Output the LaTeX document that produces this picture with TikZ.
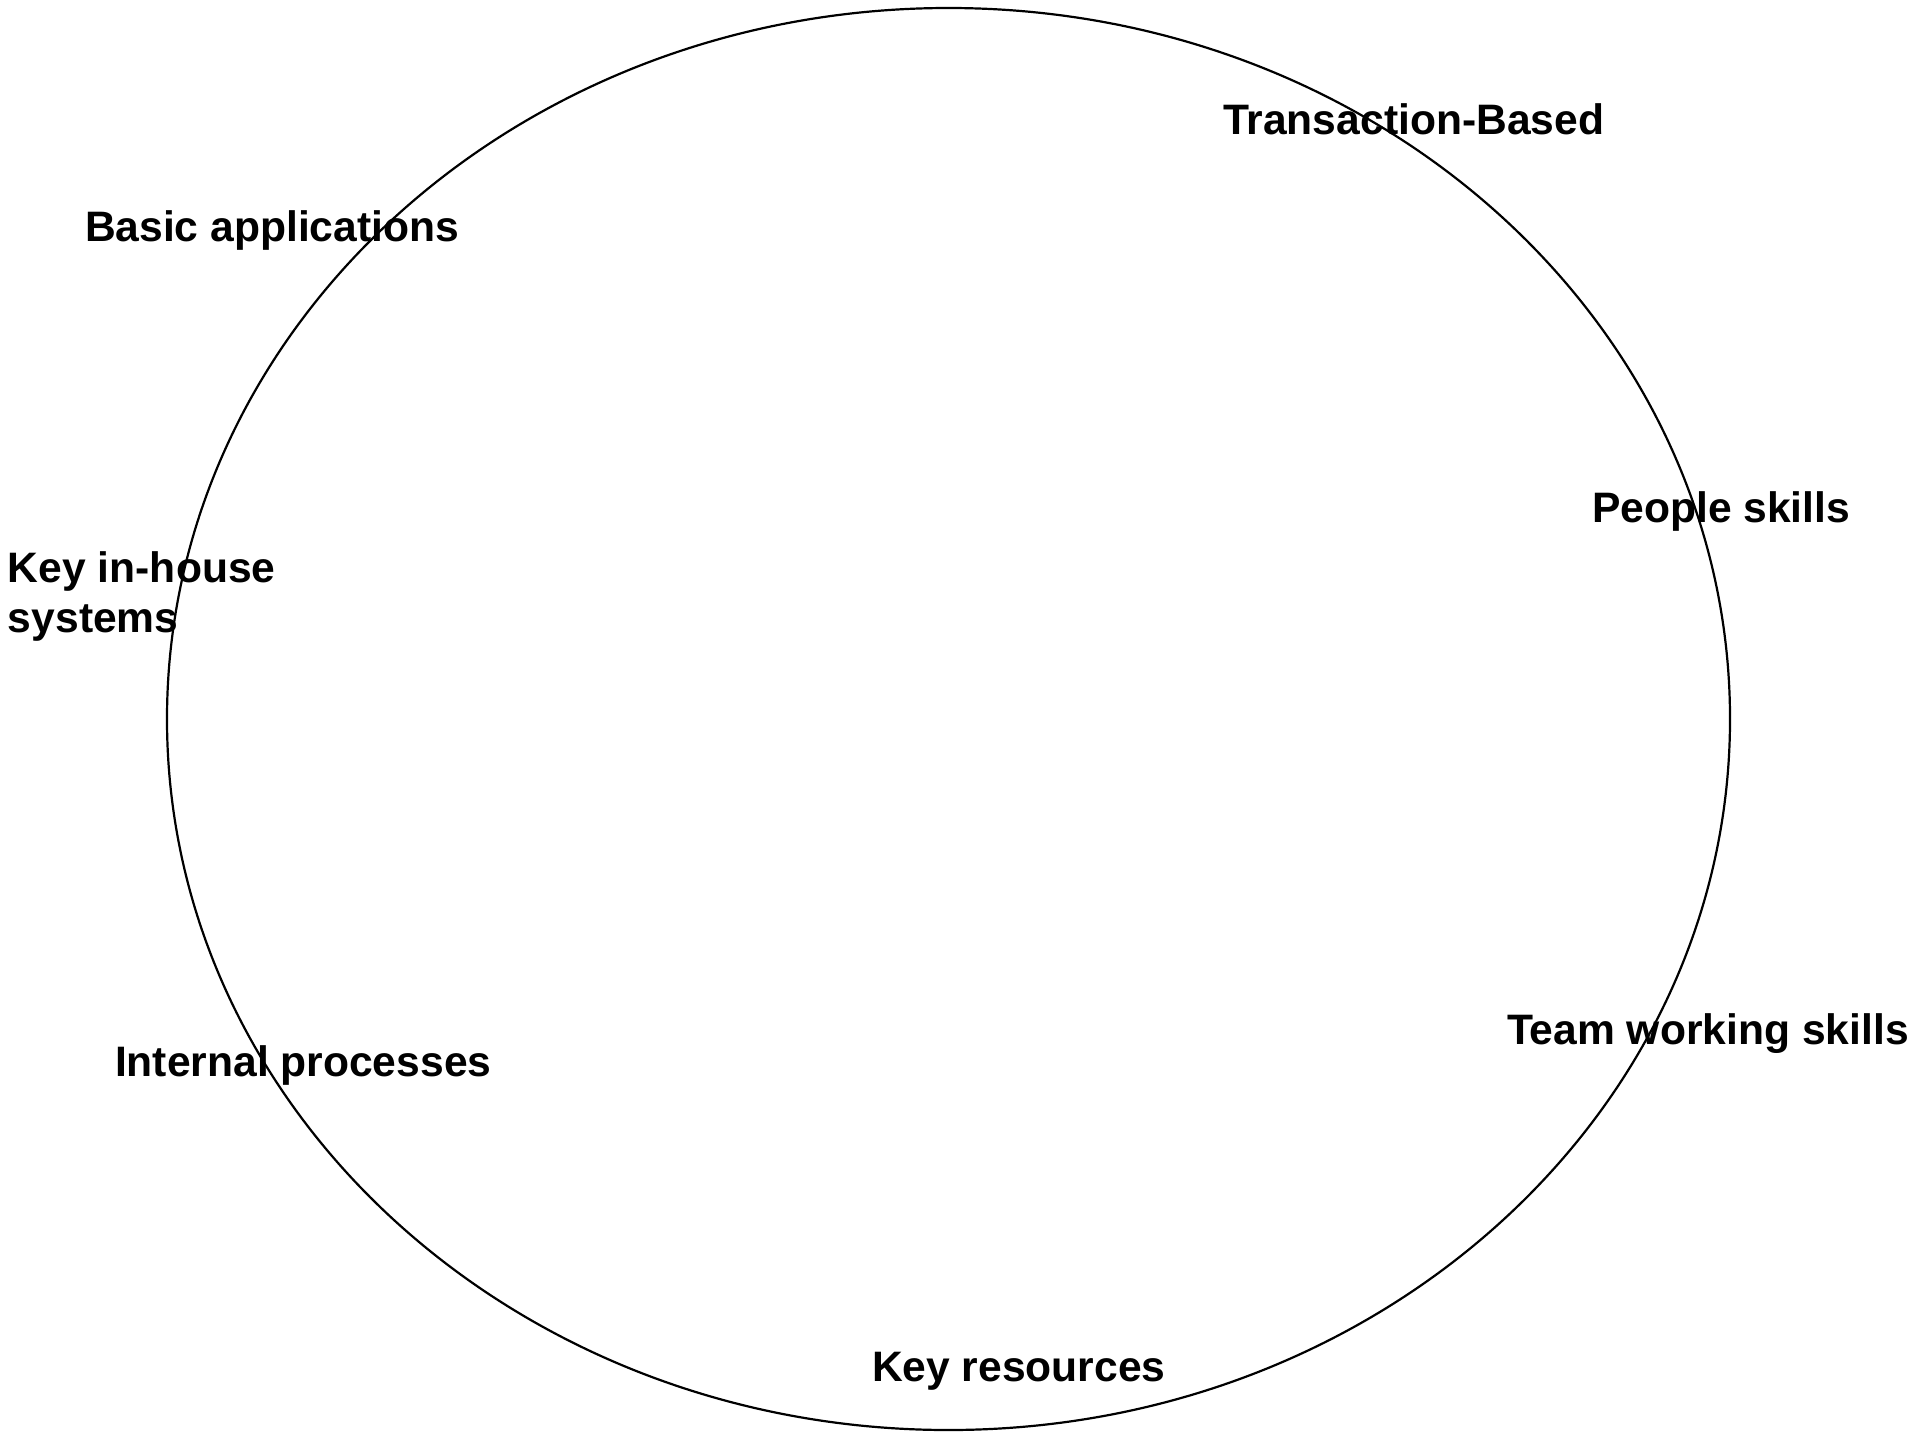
\documentclass[tikz,border=0pt]{standalone}
\usepackage{fontspec}
\setmainfont{Liberation Sans}
\usetikzlibrary{shapes.geometric}
\begin{document}
\begin{tikzpicture}[x=0.5pt,y=-0.5pt,
  ring/.style={draw=black,line width=1.1pt,ellipse,inner sep=0pt,outer sep=0pt},
  lbl/.style={anchor=base west,inner sep=0pt,outer sep=0pt,
    font=\fontsize{21.3}{25}\selectfont\bfseries,align=left}]
  \useasboundingbox (0,0) rectangle (1920,1440);
  % outer ring
  \node[ring,minimum width=781.5pt,minimum height=711pt] (ring) at (948.5,719) {};
  % labels around the ring (base anchor of a two-line label is its last line)
  \node[lbl] (tb) at (1223,134) {Transaction-Based};
  \node[lbl] (ba) at (85,241) {Basic applications};
  \node[lbl] (ps) at (1592,522) {People skills};
  \node[lbl] (kh) at (8,632) {Key in-house\\systems};
  \node[lbl] (tw) at (1507,1044) {Team working skills};
  \node[lbl] (ip) at (115,1076) {Internal processes};
  \node[lbl] (kr) at (872,1381) {Key resources};
\end{tikzpicture}
\end{document}
